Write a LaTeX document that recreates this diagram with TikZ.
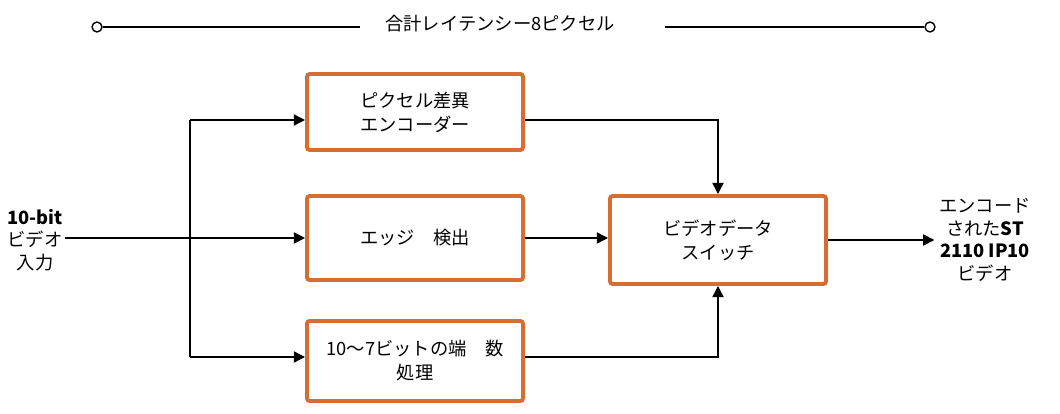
\documentclass[tikz,border=0pt]{standalone}
\usepackage{fontspec}
\setmainfont{Noto Sans CJK JP}
\usetikzlibrary{arrows.meta,positioning}
\definecolor{boxorange}{RGB}{214,110,50}
\tikzset{
  blk/.style={draw=boxorange,line width=2.8pt,rounded corners=2pt,minimum width=5.4cm,minimum height=2cm,align=center,font=\fontsize{13}{17}\selectfont},
  lbl/.style={align=center,font=\fontsize{13}{16}\selectfont},
  conn/.style={line width=1pt,-{Triangle[length=8pt,width=8pt]}}
}
\begin{document}
\begin{tikzpicture}[x=0.025cm,y=-0.025cm]
\useasboundingbox (0,0) rectangle (1060,414);
% top
\node[draw,circle,inner sep=2.5pt,line width=1pt] (l) at (97,27) {};
\node[draw,circle,inner sep=2.5pt,line width=1pt] (r) at (930,27) {};
\node[lbl] (tot) at (500,24) {合計レイテンシー8ピクセル};
\draw[line width=1pt] (l) -- (360,27);
\draw[line width=1pt] (665,27) -- (r);

% blocks
\node[blk,minimum height=1.9cm] (enc) at (415,112) {ピクセル差異\\エンコーダー};
\node[blk,minimum height=2.1cm] (edge) at (415,238) {エッジ　検出};
\node[blk] (rnd) at (415,361) {10〜7ビットの端　数\\処理};
\node[blk,minimum height=2.2cm] (sw) at (718,240) {ビデオデータ\\スイッチ};

\node[lbl] (in) at (35,240) {\textbf{10-bit}\\ビデオ\\入力};
\node[lbl] (out) at (985,240) {エンコード\\された\textbf{ST}\\\textbf{2110 IP10}\\ビデオ};

\coordinate (src) at (65,238);
\draw[conn] (src) -- (edge.west);
\draw[line width=1pt] (190,120) -- (190,357);
\draw[conn] (190,120) -- (enc.west |- 0,120);
\draw[conn] (190,357) -- (rnd.west |- 0,357);
\draw[conn] (enc.east |- 0,120) -| (sw.north);
\draw[conn] (rnd.east |- 0,357) -| (sw.south);
\draw[conn] (edge.east) -- (sw.west |- edge.east);
\draw[conn] (sw.east) -- (sw.east -| out.west);
\end{tikzpicture}
\end{document}
